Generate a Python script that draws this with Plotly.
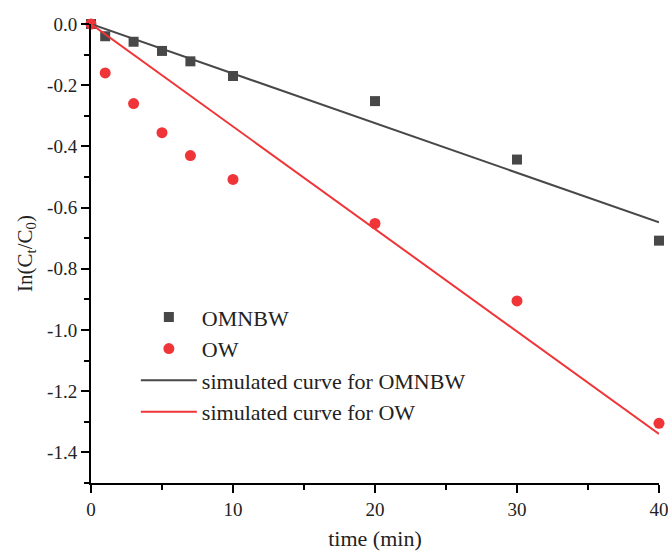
import plotly.graph_objects as go

time_points = [0, 1, 3, 5, 7, 10, 20, 30, 40]
omnbw_values = [0.0, -0.04, -0.058, -0.088, -0.122, -0.17, -0.252, -0.443, -0.708]
ow_values = [0.0, -0.16, -0.26, -0.355, -0.43, -0.508, -0.652, -0.905, -1.305]

fit_time = [0, 40]
omnbw_fit = [0.0, -0.648]
ow_fit = [0.0, -1.34]

y_tick_vals = [0.0, -0.2, -0.4, -0.6, -0.8, -1.0, -1.2, -1.4]
y_tick_text = ["0.0", "-0.2", "-0.4", "-0.6", "-0.8", "-1.0", "-1.2", "-1.4"]
x_tick_vals = [0, 10, 20, 30, 40]
x_tick_text = ["0", "10", "20", "30", "40"]

FONT = "Liberation Serif"
GRAY = "#484848"
RED = "#ef3538"

fig = go.Figure()
fig.add_trace(go.Scatter(x=time_points, y=omnbw_values, mode="markers", name="OMNBW",
                         marker=dict(symbol="square", size=10, color=GRAY), cliponaxis=False))
fig.add_trace(go.Scatter(x=time_points, y=ow_values, mode="markers", name="OW",
                         marker=dict(symbol="circle", size=11, color=RED), cliponaxis=False))
fig.add_trace(go.Scatter(x=fit_time, y=omnbw_fit, mode="lines", name="simulated curve for OMNBW",
                         line=dict(color=GRAY, width=2), cliponaxis=False))
fig.add_trace(go.Scatter(x=fit_time, y=ow_fit, mode="lines", name="simulated curve for OW",
                         line=dict(color=RED, width=2), cliponaxis=False))

axis_common = dict(showline=True, linecolor="black", linewidth=2, ticks="outside",
                   ticklen=8, tickwidth=2, tickcolor="black", showgrid=False, zeroline=False,
                   automargin=False, ticklabeloverflow="allow",
                   tickfont=dict(family=FONT, size=19, color="#222"))

fig.update_xaxes(range=[0, 40], tickvals=x_tick_vals, ticktext=x_tick_text,
                 minor=dict(ticks="outside", ticklen=5, tickwidth=2, tickcolor="black", dtick=5, tick0=0),
                 title=dict(text="time (min)", font=dict(family=FONT, size=22, color="#222"), standoff=12),
                 **axis_common)
fig.update_yaxes(range=[-1.5, 0.0], tickvals=y_tick_vals, ticktext=y_tick_text,
                 minor=dict(ticks="outside", ticklen=5, tickwidth=2, tickcolor="black", dtick=0.1, tick0=0),
                 title=dict(text="In(C<sub>t</sub>/C<sub>0</sub>)", font=dict(family=FONT, size=21, color="#222"), standoff=9),
                 **axis_common)

fig.update_layout(
    width=668, height=551,
    margin=dict(l=91, r=9, t=24, b=68),
    plot_bgcolor="white", paper_bgcolor="white",
    showlegend=True,
    legend=dict(x=0.079, y=0.407, xanchor="left", yanchor="top",
                font=dict(family=FONT, size=22, color="#222"),
                bgcolor="rgba(0,0,0,0)", tracegroupgap=0, itemwidth=56),
)

fig.write_html("out.html")
